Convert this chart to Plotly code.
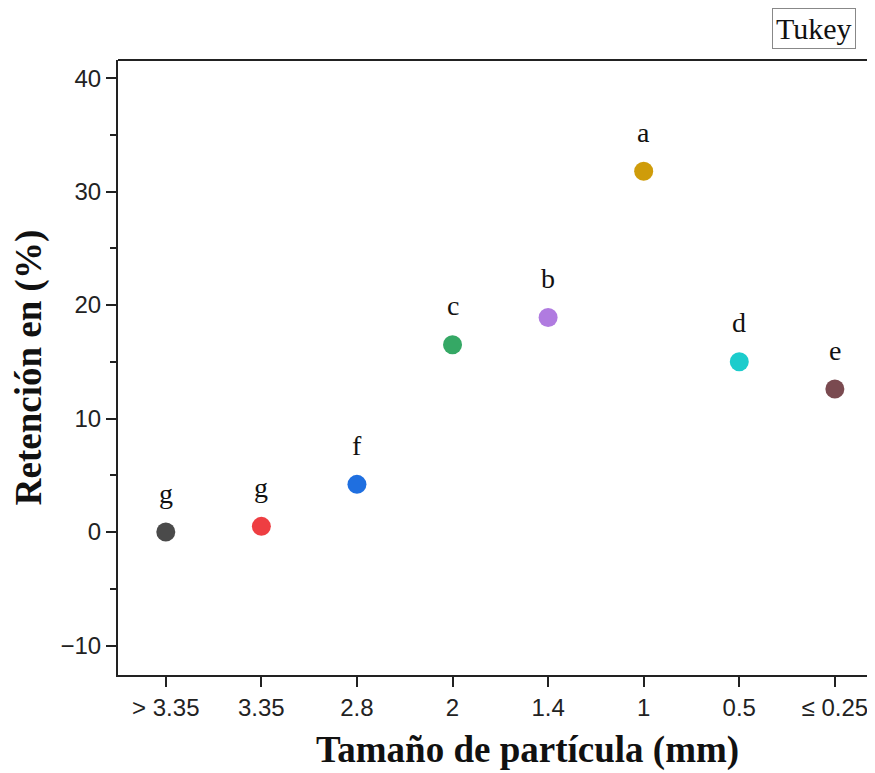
import plotly.graph_objects as go

categories = ["> 3.35", "3.35", "2.8", "2", "1.4", "1", "0.5", "≤ 0.25"]
retention = [0.0, 0.5, 4.2, 16.5, 18.9, 31.8, 15.0, 12.6]
letters = ["g", "g", "f", "c", "b", "a", "d", "e"]
colors = ["#4a4a4a", "#ee3e42", "#1f6fe0", "#35a865", "#b07be0", "#cf9c0a", "#1ccccc", "#7a4a50"]

x_idx = list(range(len(categories)))

fig = go.Figure()
fig.add_trace(go.Scatter(
    x=x_idx, y=retention, mode="markers",
    marker=dict(size=19, color=colors, line=dict(width=0)),
    showlegend=False, cliponaxis=False,
))

for xi, yi, lt in zip(x_idx, retention, letters):
    fig.add_annotation(x=xi, y=yi, text=lt, showarrow=False, yshift=39,
                       font=dict(family="Liberation Serif", size=28, color="#111"))

fig.add_annotation(xref="paper", yref="paper", x=0.9195, y=1.051, xanchor="center", yanchor="middle",
                   text="Tukey", showarrow=False, bordercolor="#888", borderwidth=1, borderpad=3,
                   font=dict(family="Liberation Serif", size=30, color="#111"))

# x axis title (centered on the full original frame, which extends past the right edge)
fig.add_annotation(xref="paper", yref="paper", x=(527 - 118) / 757, y=(675 - 750) / 615,
                   xanchor="center", yanchor="middle", showarrow=False,
                   text="<b>Tamaño de partícula (mm)</b>",
                   font=dict(family="Liberation Serif", size=37, color="#111"))

# top frame line
fig.add_shape(type="line", xref="paper", yref="paper", x0=0, x1=1.02, y0=1, y1=1,
              line=dict(color="#222", width=2))

fig.update_layout(
    width=867, height=765,
    margin=dict(l=110, r=0, t=52, b=98),
    paper_bgcolor="white", plot_bgcolor="white",
    font=dict(family="Liberation Sans", size=24, color="#222"),
    xaxis=dict(
        range=[-0.5, 7.42], tickmode="array", tickvals=x_idx, ticktext=categories,
        automargin=False,
        showline=True, linecolor="#222", linewidth=2, ticks="outside", ticklen=10,
        tickwidth=2, tickcolor="#222", showgrid=False, zeroline=False,
        tickfont=dict(size=24),
    ),
    yaxis=dict(
        range=[-12.6, 41.6], tickvals=[-10, 0, 10, 20, 30, 40],
        ticktext=["−10", "0", "10", "20", "30", "40"],
        automargin=False,
        showline=True, linecolor="#222", linewidth=2, ticks="outside", ticklen=10,
        tickwidth=2, tickcolor="#222", showgrid=False, zeroline=False,
        minor=dict(tickvals=[-5, 5, 15, 25, 35], ticks="outside", ticklen=6, tickwidth=2, tickcolor="#222"),
        title=dict(text="<b>Retención en (%)</b>", standoff=14,
                   font=dict(family="Liberation Serif", size=37, color="#111")),
        tickfont=dict(size=24),
    ),
)

fig.write_html("out.html")
